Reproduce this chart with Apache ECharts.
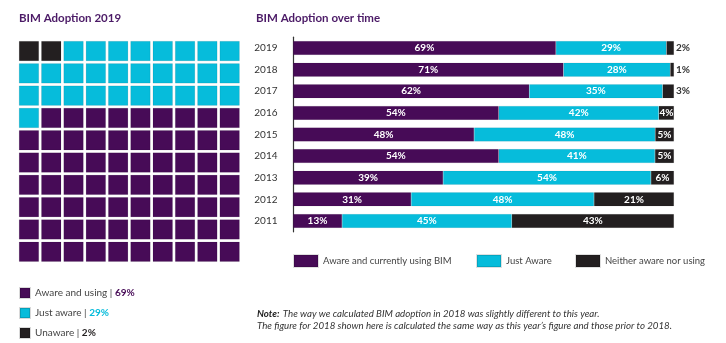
<!DOCTYPE html>
<html>
<head>
<meta charset="utf-8">
<script src="https://cdn.jsdelivr.net/npm/echarts@6/dist/echarts.min.js"></script>
<style>html,body{margin:0;padding:0;background:#fff}#c{width:726px;height:343px}</style>
</head>
<body>
<div id="c"></div>
<script>
// ---- data ----
var years = ['2019', '2018', '2017', '2016', '2015', '2014', '2013', '2012', '2011'];
var usingBIM = [69, 71, 62, 54, 48, 54, 39, 31, 13];
var justAware = [29, 28, 35, 42, 48, 41, 54, 48, 45];
var neither = [2, 1, 3, 4, 5, 5, 6, 21, 43];
var waffleNames = ['Aware and using', 'Just aware', 'Unaware'];
var waffleValues = [69, 29, 2];
var barNames = ['Aware and currently using BIM', 'Just Aware', 'Neither aware nor using'];

var PURPLE = '#470b57', CYAN = '#06bcdb', BLACK = '#231f20';
var FONT = 'Lato, "Open Sans", sans-serif';

// waffle cells: fill order from top-left: unaware, just aware, aware & using
var order = [2, 1, 0];
var cells = [[], [], []];
var idx = 0;
order.forEach(function (s) {
  for (var k = 0; k < waffleValues[s]; k++) {
    var r = Math.floor(idx / 10), c = idx % 10;
    cells[s].push([c, r]);
    idx++;
  }
});

// bar segments normalised to full bar width; labels keep the printed values
function seg(arr, i) { var t = usingBIM[i] + justAware[i] + neither[i]; return arr[i] / t * 100; }
function mk(arr, name, color, k) {
  return {
    type: 'bar', name: name, stack: 'all', xAxisIndex: 1, yAxisIndex: 1,
    barWidth: 14,
    itemStyle: { color: color, borderColor: 'rgba(0,0,0,0.12)', borderWidth: 0.5 },
    data: arr.map(function (v, i) {
      var d = { value: seg(arr, i), raw: v };
      if (k === 2 && i < 3) {
        d.label = { position: 'right', distance: 2, color: '#333' };
      }
      return d;
    }),
    label: {
      show: true, position: 'inside', color: '#fff', fontWeight: 'bold', fontSize: 10, fontFamily: FONT,
      formatter: function (p) { return p.data.raw + '%'; }
    }
  };
}

var series = [];
[0, 1, 2].forEach(function (s) {
  series.push({
    type: 'scatter', name: waffleNames[s], xAxisIndex: 0, yAxisIndex: 0,
    symbol: 'rect', symbolSize: [19.5, 19.5],
    itemStyle: { color: [PURPLE, CYAN, BLACK][s], opacity: 1, borderColor: 'rgba(0,0,0,0.15)', borderWidth: 0.6 },
    data: cells[s], silent: true, z: 2
  });
});
series.push(mk(usingBIM, barNames[0], PURPLE, 0));
series.push(mk(justAware, barNames[1], CYAN, 1));
series.push(mk(neither, barNames[2], BLACK, 2));

var cols = [0,1,2,3,4,5,6,7,8,9];
var legText = { fontSize: 9.5, color: '#444', fontFamily: FONT };

var chart = echarts.init(document.getElementById('c'), null, { renderer: 'canvas' });
chart.setOption({
  animation: false,
  textStyle: { fontFamily: FONT },
  title: [
    { text: 'BIM Adoption 2019', left: 19, top: 12.5, padding: 0, textStyle: { color: '#4b1a66', fontSize: 11.5, fontWeight: 'bold', fontFamily: FONT } },
    { text: 'BIM Adoption over time', left: 256, top: 12.5, padding: 0, textStyle: { color: '#4b1a66', fontSize: 11.5, fontWeight: 'bold', fontFamily: FONT } }
  ],
  grid: [
    { left: 17.8, top: 39.9, width: 223, height: 223 },
    { left: 293, top: 37.2, width: 381, height: 194.6 }
  ],
  xAxis: [
    { type: 'category', gridIndex: 0, data: cols, show: false },
    { type: 'value', gridIndex: 1, min: 0, max: 100, show: false }
  ],
  yAxis: [
    { type: 'category', gridIndex: 0, data: cols, inverse: true, show: false },
    { type: 'category', gridIndex: 1, data: years, inverse: true, offset: 7.5,
      axisLine: { show: true, lineStyle: { color: '#333', width: 1.2 } },
      axisTick: { show: false },
      axisLabel: { color: '#333', fontSize: 10, margin: 8, fontFamily: FONT } }
  ],
  legend: [
    { data: waffleNames, orient: 'vertical', left: 19, top: 287, padding: 0, height: 60, itemWidth: 10, itemHeight: 10, itemGap: 8,
      icon: 'rect', selectedMode: false,
      textStyle: { fontSize: 10, color: '#444', fontFamily: FONT,
        rich: {
          n: { fontSize: 10, color: '#444', fontFamily: FONT },
          p0: { fontSize: 10, color: PURPLE, fontWeight: 'bold', fontFamily: FONT },
          p1: { fontSize: 10, color: CYAN, fontWeight: 'bold', fontFamily: FONT },
          p2: { fontSize: 10, color: BLACK, fontWeight: 'bold', fontFamily: FONT }
        } },
      formatter: function (name) {
        var i = waffleNames.indexOf(name);
        return '{n|' + name + ' | }{p' + i + '|' + waffleValues[i] + '%}';
      } },
    { data: [barNames[0]], left: 293, top: 254, padding: 0, itemWidth: 24, itemHeight: 12, icon: 'rect', selectedMode: false, textStyle: legText },
    { data: [barNames[1]], left: 476, top: 254, padding: 0, itemWidth: 24, itemHeight: 12, icon: 'rect', selectedMode: false, textStyle: legText },
    { data: [barNames[2]], left: 575, top: 254, padding: 0, itemWidth: 24, itemHeight: 12, icon: 'rect', selectedMode: false, textStyle: legText }
  ],
  graphic: [
    { type: 'text', left: 257, top: 308, style: {
      text: '{b|Note:} {i|The way we calculated BIM adoption in 2018 was slightly different to this year.}',
      rich: {
        b: { fontStyle: 'italic', fontWeight: 'bold', fontSize: 9.7, fill: '#222', fontFamily: FONT },
        i: { fontStyle: 'italic', fontSize: 9.7, fill: '#333', fontFamily: FONT }
      } } },
    { type: 'text', left: 257, top: 321, style: {
      text: 'The figure for 2018 shown here is calculated the same way as this year\u2019s figure and those prior to 2018.',
      fontStyle: 'italic', fontSize: 9.7, fill: '#333', fontFamily: FONT } }
  ],
  series: series
});
</script>
</body>
</html>
